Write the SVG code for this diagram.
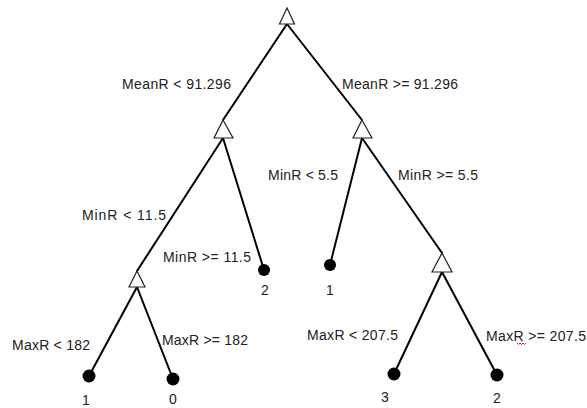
<svg xmlns="http://www.w3.org/2000/svg" width="587" height="408" viewBox="0 0 587 408">
<style>
.edge{stroke:#000;stroke-width:2;fill:none;stroke-linecap:round}
.split{fill:#fff;stroke:#222;stroke-width:1.2;stroke-linejoin:miter}
.leaf{fill:#000}
text{font-family:"Liberation Sans",Arial,sans-serif;font-size:14px;fill:#222}
.lv{text-anchor:middle}
</style>
<rect width="587" height="408" fill="#fff"/>
<g id="connectors">
<line class="edge" x1="287" y1="24" x2="223" y2="120"/>
<line class="edge" x1="287" y1="24" x2="362" y2="120"/>
<line class="edge" x1="223" y1="138" x2="137" y2="271"/>
<line class="edge" x1="223" y1="138" x2="264" y2="270"/>
<line class="edge" x1="362" y1="138" x2="330" y2="265"/>
<line class="edge" x1="362" y1="138" x2="442" y2="253"/>
<line class="edge" x1="137" y1="287" x2="89" y2="376"/>
<line class="edge" x1="137" y1="287" x2="173" y2="379"/>
<line class="edge" x1="442" y1="272" x2="394" y2="374"/>
<line class="edge" x1="442" y1="272" x2="497" y2="375"/>
</g>
<g id="edge-labels">
<text x="122" y="89" textLength="109">MeanR &lt; 91.296</text>
<text x="342" y="89" textLength="116">MeanR &gt;= 91.296</text>
<text x="268" y="180" textLength="70">MinR &lt; 5.5</text>
<text x="398" y="180" textLength="80">MinR &gt;= 5.5</text>
<text x="82" y="220" textLength="84">MinR &lt; 11.5</text>
<text x="163" y="262" textLength="88">MinR &gt;= 11.5</text>
<text x="12" y="350" textLength="78">MaxR &lt; 182</text>
<text x="162" y="345" textLength="86">MaxR &gt;= 182</text>
<text x="307" y="340" textLength="91">MaxR &lt; 207.5</text>
<text x="486" y="341" textLength="100">MaxR &gt;= 207.5</text>
<path d="M517,343 l1.5,1.5 l1.5,-1.5 l1.5,1.5 l1.5,-1.5 l1.5,1.5 l1.5,-1.5" fill="none" stroke="#e02020" stroke-width="1"/>
</g>
<g id="root"><polygon class="split" points="287,8 279.5,24 294.5,24"/></g>
<g id="n-left"><polygon class="split" points="223,120 214,138 233,138"/></g>
<g id="n-right"><polygon class="split" points="362,120 353,138 372,138"/></g>
<g id="n-left-left"><polygon class="split" points="137,271 129,287 145,287"/></g>
<g id="n-right-right"><polygon class="split" points="442,253 432,272 452,272"/></g>
<g id="leaf-left-right"><circle class="leaf" cx="264" cy="270" r="6"/><text class="lv" x="265" y="295">2</text></g>
<g id="leaf-right-left"><circle class="leaf" cx="330" cy="265" r="6"/><text class="lv" x="330" y="295">1</text></g>
<g id="leaf-ll-left"><circle class="leaf" cx="89" cy="376" r="6.5"/><text class="lv" x="86" y="405">1</text></g>
<g id="leaf-ll-right"><circle class="leaf" cx="173" cy="379" r="6.5"/><text class="lv" x="173" y="404">0</text></g>
<g id="leaf-rr-left"><circle class="leaf" cx="394" cy="374" r="6.5"/><text class="lv" x="385" y="402">3</text></g>
<g id="leaf-rr-right"><circle class="leaf" cx="497" cy="375" r="6.5"/><text class="lv" x="497" y="403">2</text></g>
</svg>
